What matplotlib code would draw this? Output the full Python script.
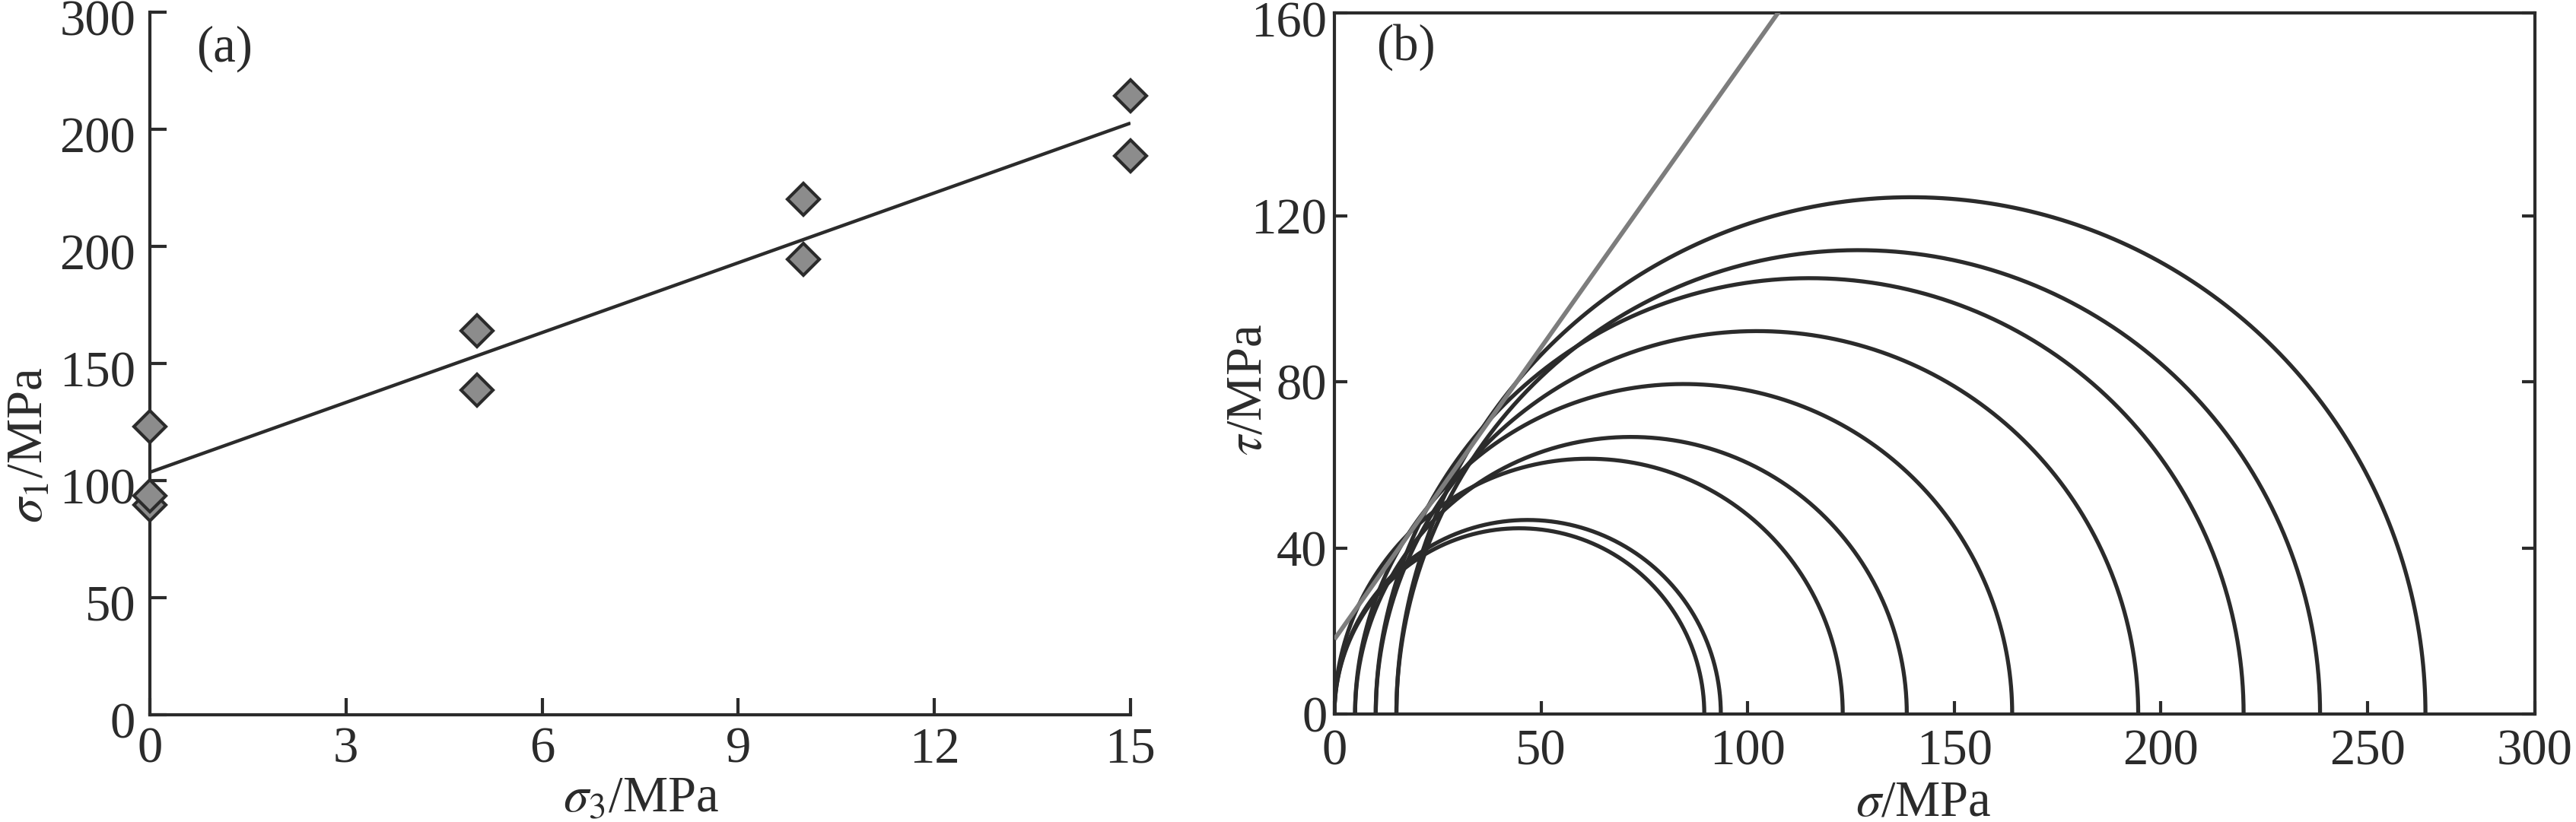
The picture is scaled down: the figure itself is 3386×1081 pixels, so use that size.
import numpy as np
import matplotlib
matplotlib.use('Agg')
import matplotlib.pyplot as plt
from matplotlib.transforms import ScaledTranslation

# ---- data ----
sigma3 = [0, 0, 0, 5, 5, 10, 10, 15, 15]                      # confining stress, MPa
sigma1 = [89.5, 93.5, 123.0, 138.5, 164.0, 194.5, 220.0, 238.5, 264.0]  # peak stress, MPa
fit_sigma3 = [0, 15]
fit_sigma1 = [103.5, 252.5]
a_xticks = [0, 3, 6, 9, 12, 15]
a_xticklabels = ['0', '3', '6', '9', '12', '15']
a_yticks = [0, 50, 100, 150, 200, 250, 300]
a_yticklabels = ['0', '50', '100', '150', '200', '200', '300']
b_xticks = [0, 50, 100, 150, 200, 250]
b_xticklabels = ['0', '50', '100', '150', '200', '250', '300']
b_yticks = [0, 40, 80, 120]
b_yticklabels = ['0', '40', '80', '120', '160']
envelope_c = 18.0        # cohesion intercept, MPa
envelope_slope = 1.406   # tan(phi)

# ---- style ----
DPI = 100
INK = '#2b2b2b'
plt.rcParams['font.family'] = ['Liberation Serif', 'DejaVu Serif']
plt.rcParams['mathtext.fontset'] = 'stix'
FS = 48
LW = 3.0

fig = plt.figure(figsize=(3386 / DPI, 1081 / DPI), dpi=DPI)

# ---------------- panel (a) ----------------
axa = fig.add_axes([0.05818, 0.13043, 0.38068, 0.85523])
axa.set_xlim(0, 15)
axa.set_ylim(0, 300)
axa.plot(fit_sigma3, fit_sigma1, color=INK, lw=3.2, solid_capstyle='butt', zorder=2)
axa.plot(sigma3, sigma1, linestyle='none', marker='D', markersize=21.5,
         markerfacecolor='#8c8c8c', markeredgecolor=INK, markeredgewidth=3.0,
         clip_on=False, zorder=3)
for s in ['top', 'right']:
    axa.spines[s].set_visible(False)
for s in ['left', 'bottom']:
    axa.spines[s].set_linewidth(LW)
    axa.spines[s].set_color(INK)
axa.set_xticks(a_xticks)
axa.set_xticklabels(a_xticklabels)
axa.set_yticks(a_yticks)
axa.set_yticklabels(a_yticklabels)
axa.tick_params(axis='both', direction='in', length=15.8, width=LW, color=INK,
                labelsize=FS, labelcolor=INK)
axa.tick_params(axis='x', pad=11.5)
axa.tick_params(axis='y', pad=13.5)
axa.set_xlabel(r'$\sigma_3$/MPa', fontsize=FS, color=INK, va='center')
axa.xaxis.set_label_coords(0.5004, -0.1205)
axa.set_ylabel(r'$\sigma_1$/MPa', fontsize=FS, color=INK, va='center')
axa.yaxis.set_label_coords(-0.1226, 0.383)
axa.text(0.0764, 0.947, '(a)', transform=axa.transAxes, fontsize=FS, color=INK,
         ha='center', va='center')

# ---------------- panel (b) ----------------
xmax_b, ymax_b = 290.4, 168.9
axb = fig.add_axes([0.51802, 0.13136, 0.46589, 0.85291])
axb.set_xlim(0, xmax_b)
axb.set_ylim(0, ymax_b)
theta = np.linspace(0, np.pi, 600)
for s3, s1 in zip(sigma3, sigma1):
    c = (s1 + s3) / 2.0
    r = (s1 - s3) / 2.0
    axb.plot(c + r * np.cos(theta), r * np.sin(theta), color=INK, lw=3.8, zorder=2)
env_x = np.array([0.0, 130.0])
axb.plot(env_x, envelope_c + envelope_slope * env_x, color='#7d7d7d', lw=4.2,
         solid_capstyle='butt', zorder=3)
for s in axb.spines.values():
    s.set_linewidth(LW)
    s.set_color(INK)
axb.set_xticks(b_xticks + [xmax_b])
axb.set_xticklabels(b_xticklabels)
axb.set_yticks(b_yticks + [ymax_b])
axb.set_yticklabels(b_yticklabels)
axb.tick_params(axis='both', direction='in', length=12.2, width=LW, color=INK,
                labelsize=FS, labelcolor=INK, right=True, top=False)
axb.tick_params(axis='x', pad=14)
axb.tick_params(axis='y', pad=7)
axb.set_xlabel(r'$\sigma$/MPa', fontsize=FS, color=INK, va='center')
axb.xaxis.set_label_coords(0.4907, -0.127)
axb.set_ylabel(r'$\tau$/MPa', fontsize=FS, color=INK, va='center')
axb.yaxis.set_label_coords(-0.0716, 0.462)
axb.text(0.0596, 0.951, '(b)', transform=axb.transAxes, fontsize=FS, color=INK,
         ha='center', va='center')

# small vertical offsets of tick labels as in the reference
down7 = ScaledTranslation(0, -7 / DPI, fig.dpi_scale_trans)
for lab in axa.get_yticklabels():
    lab.set_transform(lab.get_transform() + down7)
blabs = axb.get_yticklabels()
blabs[-1].set_transform(blabs[-1].get_transform() + ScaledTranslation(0, -8 / DPI, fig.dpi_scale_trans))

fig.savefig('out.png', dpi=DPI)
